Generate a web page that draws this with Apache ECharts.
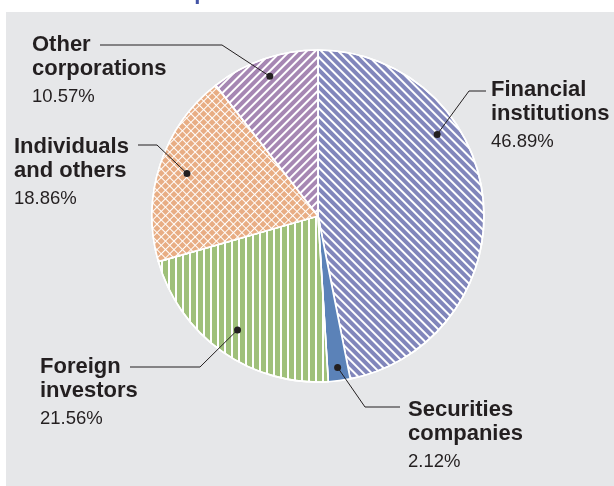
<!DOCTYPE html>
<html>
<head>
<meta charset="utf-8">
<script src="https://cdn.jsdelivr.net/npm/echarts@6/dist/echarts.min.js"></script>
<style>
  html, body { margin: 0; padding: 0; background: #fff; }
  #chart { width: 614px; height: 486px; }
</style>
</head>
<body>
<div id="chart"></div>
<script>
// data
const categories = ["Financial institutions", "Securities companies", "Foreign investors", "Individuals and others", "Other corporations"];
const labelLines = [["Financial", "institutions"], ["Securities", "companies"], ["Foreign", "investors"], ["Individuals", "and others"], ["Other", "corporations"]];
const shares = [46.89, 2.12, 21.56, 18.86, 10.57];
const shareLabels = ["46.89%", "2.12%", "21.56%", "18.86%", "10.57%"];

// styles / layout
const FONT = "'Liberation Sans', Arial, sans-serif";
const INK = "#231f20";
const sliceStyles = [
  { color: "#8186bb", decal: { symbol: "rect", color: "#ffffff", dashArrayX: [1, 0], dashArrayY: [1.2, 4], rotation: Math.PI / 4 } },
  { color: "#5b82b8", decal: null },
  { color: "#9fc07a", decal: { symbol: "rect", color: "#ffffff", dashArrayX: [1.6, 4.1], dashArrayY: [1, 0], rotation: 0 } },
  { color: "#e8ad84", decal: { symbol: "rect", color: "#e8ad84", backgroundColor: "#ffffff", dashArrayX: [5, 1], dashArrayY: [5, 1], rotation: Math.PI / 4 } },
  { color: "#a687b3", decal: { symbol: "rect", color: "#ffffff", dashArrayX: [1, 0], dashArrayY: [1.2, 4], rotation: -Math.PI / 4 } }
];
// x, y = first line baseline; elbow/end of leader; r = anchor radius share; shift = anchor angle shift (in %)
const labelSpots = [
  { x: 491, y: 97, elbow: [469, 91], end: [486, 91], r: 0.87, shift: -8 },
  { x: 408, y: 417, elbow: [365, 407], end: [400, 407], r: 0.92, shift: 0 },
  { x: 40, y: 374, elbow: [200, 367], end: [130, 367], r: 0.84, shift: 0 },
  { x: 14, y: 154, elbow: [157, 145], end: [138, 145], r: 0.83, shift: 0 },
  { x: 32, y: 52, elbow: [222, 45], end: [100, 45], r: 0.89, shift: 0 }
];

const CENTER = [318, 216];
const RADIUS = 166;

let acc = 0;
const anchors = shares.map((v, i) => {
  const mid = acc + v / 2;
  acc += v;
  return [labelSpots[i].r, mid + labelSpots[i].shift];
});

const chart = echarts.init(document.getElementById("chart"), null, { renderer: "canvas" });

chart.setOption({
  animation: false,
  title: {
    text: "Stockholder Composition",
    left: 12,
    top: -18,
    padding: 0,
    textStyle: { color: "#4354a6", fontSize: 22, fontWeight: "bold", fontFamily: FONT }
  },
  graphic: [
    { type: "rect", left: 6, top: 12, z: -10, silent: true, shape: { width: 608, height: 474 }, style: { fill: "#e6e7e9" } }
  ],
  polar: { center: CENTER, radius: [0, RADIUS] },
  angleAxis: { type: "value", min: 0, max: 100, startAngle: 90, clockwise: true, show: false },
  radiusAxis: { type: "value", min: 0, max: 1, show: false },
  series: [
    {
      type: "pie",
      center: CENTER,
      radius: RADIUS,
      startAngle: 90,
      clockwise: true,
      silent: true,
      label: { show: false },
      labelLine: { show: false },
      itemStyle: { borderColor: "#ffffff", borderWidth: 1.6 },
      data: categories.map((name, i) => ({
        name,
        value: shares[i],
        itemStyle: { color: sliceStyles[i].color, decal: sliceStyles[i].decal }
      }))
    },
    {
      type: "custom",
      coordinateSystem: "polar",
      silent: true,
      z: 5,
      data: anchors,
      renderItem(params, api) {
        const i = params.dataIndex;
        const spot = labelSpots[i];
        const p = api.coord([api.value(0), api.value(1)]);
        return {
          type: "group",
          children: [
            { type: "polyline", shape: { points: [p, spot.elbow, spot.end] }, style: { stroke: INK, lineWidth: 1, fill: null } },
            { type: "circle", shape: { cx: p[0], cy: p[1], r: 3.5 }, style: { fill: INK } },
            { type: "text", style: { text: labelLines[i][0], x: spot.x, y: spot.y - 6.8, verticalAlign: "middle", fill: INK, font: "bold 22px " + FONT } },
            { type: "text", style: { text: labelLines[i][1], x: spot.x, y: spot.y + 24 - 6.8, verticalAlign: "middle", fill: INK, font: "bold 22px " + FONT } },
            { type: "text", style: { text: shareLabels[i], x: spot.x, y: spot.y + 51 - 5.7, verticalAlign: "middle", fill: INK, font: "18.5px " + FONT } }
          ]
        };
      }
    }
  ]
});
</script>
</body>
</html>
